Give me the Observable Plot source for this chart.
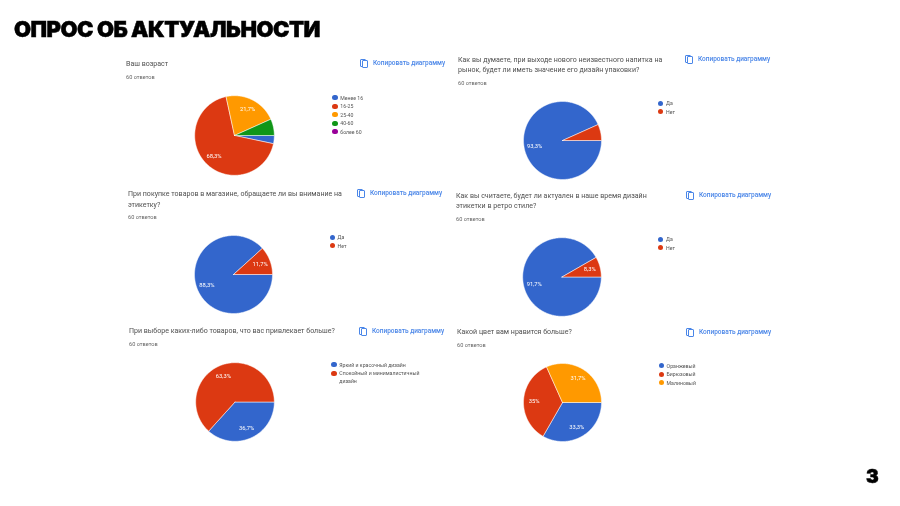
<!DOCTYPE html>
<html lang="ru">
<head>
<meta charset="utf-8">
<script src="https://cdn.jsdelivr.net/npm/d3@7"></script>
<script src="https://cdn.jsdelivr.net/npm/@observablehq/plot@0.6"></script>
<style>
html,body{margin:0;padding:0;background:#fff}
#page{position:relative;width:900px;height:506px;overflow:hidden;font-family:Roboto,sans-serif;filter:blur(.25px)}
#page div,#page svg.pie{position:absolute}
.heading{font-family:Inter,sans-serif;font-weight:900;color:#000;white-space:nowrap;-webkit-text-stroke:.5px #000}
.q{font-size:7.05px;line-height:10.6px;color:#4f4f4f;white-space:nowrap}
.sub{font-size:5.6px;line-height:8px;color:#666;white-space:nowrap}
.copy{font-size:6.5px;line-height:8px;font-weight:500;color:#4a86e8;white-space:nowrap}
.leg{font-size:5.2px;line-height:8.4px;color:#555;white-space:nowrap}
.dot{width:5.4px;height:5.4px;border-radius:50%}
.ico{width:6px;height:8px;border:1.1px solid #4a86e8;border-radius:1px;background:#fff;box-sizing:border-box}
</style>
</head>
<body>
<div id="page"></div>
<script>
// Data
const mainTitle = "ОПРОС ОБ АКТУАЛЬНОСТИ";
const pageNumber = "3";
const answers = "60 ответов";
const copyLabel = "Копировать диаграмму";
const palette = ["#3366cc", "#dc3912", "#ff9900", "#109618", "#990099"];

const q1Title = ["Ваш возраст"];
const q1Cats = ["Менее 16", "16-25", "25-40", "40-60", "более 60"];
const q1Vals = [3.3, 68.3, 21.7, 6.7, 0];

const q2Title = ["Как вы думаете, при выходе нового неизвестного напитка на", "рынок, будет ли иметь значение его дизайн упаковки?"];
const q2Cats = ["Да", "Нет"];
const q2Vals = [93.3, 6.7];

const q3Title = ["При покупке товаров в магазине, обращаете ли вы внимание на", "этикетку?"];
const q3Cats = ["Да", "Нет"];
const q3Vals = [88.3, 11.7];

const q4Title = ["Как вы считаете, будет ли актуален в наше время дизайн", "этикетки в ретро стиле?"];
const q4Cats = ["Да", "Нет"];
const q4Vals = [91.7, 8.3];

const q5Title = ["При выборе каких-либо товаров, что вас привлекает больше?"];
const q5Cats = ["Яркий и красочный дизайн", "Спокойный и минималистичный\nдизайн"];
const q5Vals = [36.7, 63.3];

const q6Title = ["Какой цвет вам нравится больше?"];
const q6Cats = ["Оранжевый", "Бирюзовый", "Малиновый"];
const q6Vals = [33.3, 35, 31.7];

// Layout of the panels on the page
const panels = [
  {title:q1Title,cats:q1Cats,vals:q1Vals,cx:233.5,cy:135.2,r:39.8,tx:126,ty:64, sy:77, ix:360,iy:63, lx:335,  ly:97.7},
  {title:q2Title,cats:q2Cats,vals:q2Vals,cx:562.3,cy:139.7,r:39,  tx:458,ty:60, sy:83, ix:685,iy:59, lx:660.7,ly:103.3},
  {title:q3Title,cats:q3Cats,vals:q3Vals,cx:233.3,cy:274.3,r:39,  tx:128,ty:194.3,sy:217,ix:357,iy:193,lx:332.3,ly:237.3},
  {title:q4Title,cats:q4Cats,vals:q4Vals,cx:561.3,cy:276.3,r:39.3,tx:456,ty:196,sy:218.7,ix:686,iy:195,lx:660.7,ly:239.3},
  {title:q5Title,cats:q5Cats,vals:q5Vals,cx:234.7,cy:401.3,r:39.3,tx:129,ty:331,sy:344,ix:359,iy:331,lx:334,  ly:364.7},
  {title:q6Title,cats:q6Cats,vals:q6Vals,cx:562.3,cy:402.3,r:39,  tx:457,ty:332,sy:345,ix:686,iy:332,lx:661.3,ly:365.7}
];

const page = document.getElementById("page");
function put(cls, x, yMid, text, lh){
  const d = document.createElement("div");
  d.className = cls;
  d.textContent = text;
  d.style.left = x + "px";
  d.style.top = (yMid - lh / 2) + "px";
  page.appendChild(d);
  return d;
}
const fmt = v => String(v).replace(".", ",") + "%";
const MIN_LABEL = 8;   // slices below this percent carry no label
const LABEL_R = 0.73;  // label distance from the centre, in radii

function slices(cats, vals){
  const total = d3.sum(vals);
  let acc = 0;
  const outline = [], labels = [];
  vals.forEach((v, i) => {
    const a0 = acc / total * 2 * Math.PI;
    acc += v;
    const a1 = acc / total * 2 * Math.PI;
    if (v <= 0) return;
    outline.push({cat: cats[i], x: 0, y: 0});
    const n = Math.max(2, Math.ceil((a1 - a0) / 0.02));
    d3.range(n + 1).forEach(k => {
      const a = a0 + (a1 - a0) * k / n;
      outline.push({cat: cats[i], x: Math.cos(a), y: -Math.sin(a)});
    });
    outline.push({cat: cats[i], x: 0, y: 0});
    if (v >= MIN_LABEL) {
      const m = (a0 + a1) / 2;
      labels.push({x: LABEL_R * Math.cos(m), y: -LABEL_R * Math.sin(m), text: fmt(v)});
    }
  });
  return {outline, labels};
}

panels.forEach(p => {
  p.title.forEach((t, i) => put("q", p.tx, p.ty + i * 10.6, t, 10.6));
  put("sub", p.tx, p.sy, answers, 8);

  // copy icon + label
  put("ico", p.ix, p.iy - 0.5, "", 8);
  put("ico", p.ix + 2, p.iy + 0.5, "", 8);
  put("copy", p.ix + 13, p.iy, copyLabel, 8);

  // legend
  let row = 0;
  p.cats.forEach((c, i) => {
    const y = p.ly + row * 8.5;
    const dot = put("dot", p.lx - 2.7, y, "", 5.4);
    dot.style.background = palette[i];
    c.split("\n").forEach(line => {
      put("leg", p.lx + 5.3, p.ly + row * 8.5 - (row > i ? 0.8 : 0), line, 8.4);
      row++;
    });
  });

  // pie
  const size = Math.ceil(p.r * 2 + 6);
  const extent = size / 2 / p.r;
  const {outline, labels} = slices(p.cats, p.vals);
  const svg = Plot.plot({
    width: size,
    height: size,
    margin: 0,
    style: {background: "transparent", overflow: "visible"},
    x: {domain: [-extent, extent], axis: null},
    y: {domain: [-extent, extent], axis: null},
    color: {domain: p.cats, range: palette},
    marks: [
      Plot.line(outline, {x: "x", y: "y", z: "cat", fill: "cat", stroke: "#fff", strokeWidth: 0.5, strokeLinejoin: "round"}),
      Plot.text(labels, {x: "x", y: "y", text: "text", fill: "#fff", fontSize: 5.8, fontFamily: "Roboto"})
    ]
  });
  svg.classList.add("pie");
  svg.style.left = (p.cx - size / 2) + "px";
  svg.style.top = (p.cy - size / 2) + "px";
  page.appendChild(svg);
});

const h = put("heading", 14, 29, mainTitle, 30);
h.style.fontSize = "22px";
h.style.lineHeight = "30px";
h.style.letterSpacing = "-0.5px";
const n = put("heading", 866, 477, pageNumber, 24);
n.style.fontSize = "19px";
n.style.lineHeight = "24px";
</script>
</body>
</html>
